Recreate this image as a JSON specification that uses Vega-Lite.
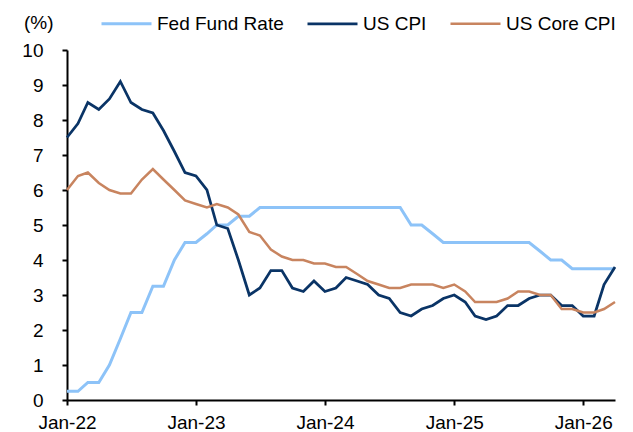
{
  "$schema": "https://vega.github.io/schema/vega-lite/v6.json",
  "width": 548,
  "height": 350,
  "autosize": {"type": "none"},
  "padding": {"left": 67, "top": 50, "right": 18, "bottom": 32},
  "config": {
    "view": {"stroke": null},
    "font": "Liberation Sans",
    "axis": {
      "domainColor": "#000000",
      "domainWidth": 2,
      "tickColor": "#000000",
      "tickWidth": 2,
      "tickSize": 5,
      "labelColor": "#000000",
      "labelFontSize": 19,
      "labelFont": "Liberation Sans",
      "labelFlush": false,
      "labelOverlap": false,
      "grid": false
    }
  },
  "data": {
    "values": [
      {"d": "2022-01-01", "s": "Fed Fund Rate", "v": 0.25},
      {"d": "2022-02-01", "s": "Fed Fund Rate", "v": 0.25},
      {"d": "2022-03-01", "s": "Fed Fund Rate", "v": 0.5},
      {"d": "2022-04-01", "s": "Fed Fund Rate", "v": 0.5},
      {"d": "2022-05-01", "s": "Fed Fund Rate", "v": 1.0},
      {"d": "2022-06-01", "s": "Fed Fund Rate", "v": 1.75},
      {"d": "2022-07-01", "s": "Fed Fund Rate", "v": 2.5},
      {"d": "2022-08-01", "s": "Fed Fund Rate", "v": 2.5},
      {"d": "2022-09-01", "s": "Fed Fund Rate", "v": 3.25},
      {"d": "2022-10-01", "s": "Fed Fund Rate", "v": 3.25},
      {"d": "2022-11-01", "s": "Fed Fund Rate", "v": 4.0},
      {"d": "2022-12-01", "s": "Fed Fund Rate", "v": 4.5},
      {"d": "2023-01-01", "s": "Fed Fund Rate", "v": 4.5},
      {"d": "2023-02-01", "s": "Fed Fund Rate", "v": 4.75},
      {"d": "2023-03-01", "s": "Fed Fund Rate", "v": 5.0},
      {"d": "2023-04-01", "s": "Fed Fund Rate", "v": 5.0},
      {"d": "2023-05-01", "s": "Fed Fund Rate", "v": 5.25},
      {"d": "2023-06-01", "s": "Fed Fund Rate", "v": 5.25},
      {"d": "2023-07-01", "s": "Fed Fund Rate", "v": 5.5},
      {"d": "2023-08-01", "s": "Fed Fund Rate", "v": 5.5},
      {"d": "2023-09-01", "s": "Fed Fund Rate", "v": 5.5},
      {"d": "2023-10-01", "s": "Fed Fund Rate", "v": 5.5},
      {"d": "2023-11-01", "s": "Fed Fund Rate", "v": 5.5},
      {"d": "2023-12-01", "s": "Fed Fund Rate", "v": 5.5},
      {"d": "2024-01-01", "s": "Fed Fund Rate", "v": 5.5},
      {"d": "2024-02-01", "s": "Fed Fund Rate", "v": 5.5},
      {"d": "2024-03-01", "s": "Fed Fund Rate", "v": 5.5},
      {"d": "2024-04-01", "s": "Fed Fund Rate", "v": 5.5},
      {"d": "2024-05-01", "s": "Fed Fund Rate", "v": 5.5},
      {"d": "2024-06-01", "s": "Fed Fund Rate", "v": 5.5},
      {"d": "2024-07-01", "s": "Fed Fund Rate", "v": 5.5},
      {"d": "2024-08-01", "s": "Fed Fund Rate", "v": 5.5},
      {"d": "2024-09-01", "s": "Fed Fund Rate", "v": 5.0},
      {"d": "2024-10-01", "s": "Fed Fund Rate", "v": 5.0},
      {"d": "2024-11-01", "s": "Fed Fund Rate", "v": 4.75},
      {"d": "2024-12-01", "s": "Fed Fund Rate", "v": 4.5},
      {"d": "2025-01-01", "s": "Fed Fund Rate", "v": 4.5},
      {"d": "2025-02-01", "s": "Fed Fund Rate", "v": 4.5},
      {"d": "2025-03-01", "s": "Fed Fund Rate", "v": 4.5},
      {"d": "2025-04-01", "s": "Fed Fund Rate", "v": 4.5},
      {"d": "2025-05-01", "s": "Fed Fund Rate", "v": 4.5},
      {"d": "2025-06-01", "s": "Fed Fund Rate", "v": 4.5},
      {"d": "2025-07-01", "s": "Fed Fund Rate", "v": 4.5},
      {"d": "2025-08-01", "s": "Fed Fund Rate", "v": 4.5},
      {"d": "2025-09-01", "s": "Fed Fund Rate", "v": 4.25},
      {"d": "2025-10-01", "s": "Fed Fund Rate", "v": 4.0},
      {"d": "2025-11-01", "s": "Fed Fund Rate", "v": 4.0},
      {"d": "2025-12-01", "s": "Fed Fund Rate", "v": 3.75},
      {"d": "2026-01-01", "s": "Fed Fund Rate", "v": 3.75},
      {"d": "2026-02-01", "s": "Fed Fund Rate", "v": 3.75},
      {"d": "2026-03-01", "s": "Fed Fund Rate", "v": 3.75},
      {"d": "2026-04-01", "s": "Fed Fund Rate", "v": 3.75},
      {"d": "2022-01-01", "s": "US CPI", "v": 7.5},
      {"d": "2022-02-01", "s": "US CPI", "v": 7.9},
      {"d": "2022-03-01", "s": "US CPI", "v": 8.5},
      {"d": "2022-04-01", "s": "US CPI", "v": 8.3},
      {"d": "2022-05-01", "s": "US CPI", "v": 8.6},
      {"d": "2022-06-01", "s": "US CPI", "v": 9.1},
      {"d": "2022-07-01", "s": "US CPI", "v": 8.5},
      {"d": "2022-08-01", "s": "US CPI", "v": 8.3},
      {"d": "2022-09-01", "s": "US CPI", "v": 8.2},
      {"d": "2022-10-01", "s": "US CPI", "v": 7.7},
      {"d": "2022-11-01", "s": "US CPI", "v": 7.1},
      {"d": "2022-12-01", "s": "US CPI", "v": 6.5},
      {"d": "2023-01-01", "s": "US CPI", "v": 6.4},
      {"d": "2023-02-01", "s": "US CPI", "v": 6.0},
      {"d": "2023-03-01", "s": "US CPI", "v": 5.0},
      {"d": "2023-04-01", "s": "US CPI", "v": 4.9},
      {"d": "2023-05-01", "s": "US CPI", "v": 4.0},
      {"d": "2023-06-01", "s": "US CPI", "v": 3.0},
      {"d": "2023-07-01", "s": "US CPI", "v": 3.2},
      {"d": "2023-08-01", "s": "US CPI", "v": 3.7},
      {"d": "2023-09-01", "s": "US CPI", "v": 3.7},
      {"d": "2023-10-01", "s": "US CPI", "v": 3.2},
      {"d": "2023-11-01", "s": "US CPI", "v": 3.1},
      {"d": "2023-12-01", "s": "US CPI", "v": 3.4},
      {"d": "2024-01-01", "s": "US CPI", "v": 3.1},
      {"d": "2024-02-01", "s": "US CPI", "v": 3.2},
      {"d": "2024-03-01", "s": "US CPI", "v": 3.5},
      {"d": "2024-04-01", "s": "US CPI", "v": 3.4},
      {"d": "2024-05-01", "s": "US CPI", "v": 3.3},
      {"d": "2024-06-01", "s": "US CPI", "v": 3.0},
      {"d": "2024-07-01", "s": "US CPI", "v": 2.9},
      {"d": "2024-08-01", "s": "US CPI", "v": 2.5},
      {"d": "2024-09-01", "s": "US CPI", "v": 2.4},
      {"d": "2024-10-01", "s": "US CPI", "v": 2.6},
      {"d": "2024-11-01", "s": "US CPI", "v": 2.7},
      {"d": "2024-12-01", "s": "US CPI", "v": 2.9},
      {"d": "2025-01-01", "s": "US CPI", "v": 3.0},
      {"d": "2025-02-01", "s": "US CPI", "v": 2.8},
      {"d": "2025-03-01", "s": "US CPI", "v": 2.4},
      {"d": "2025-04-01", "s": "US CPI", "v": 2.3},
      {"d": "2025-05-01", "s": "US CPI", "v": 2.4},
      {"d": "2025-06-01", "s": "US CPI", "v": 2.7},
      {"d": "2025-07-01", "s": "US CPI", "v": 2.7},
      {"d": "2025-08-01", "s": "US CPI", "v": 2.9},
      {"d": "2025-09-01", "s": "US CPI", "v": 3.0},
      {"d": "2025-10-01", "s": "US CPI", "v": 3.0},
      {"d": "2025-11-01", "s": "US CPI", "v": 2.7},
      {"d": "2025-12-01", "s": "US CPI", "v": 2.7},
      {"d": "2026-01-01", "s": "US CPI", "v": 2.4},
      {"d": "2026-02-01", "s": "US CPI", "v": 2.4},
      {"d": "2026-03-01", "s": "US CPI", "v": 3.3},
      {"d": "2026-04-01", "s": "US CPI", "v": 3.8},
      {"d": "2022-01-01", "s": "US Core CPI", "v": 6.0},
      {"d": "2022-02-01", "s": "US Core CPI", "v": 6.4},
      {"d": "2022-03-01", "s": "US Core CPI", "v": 6.5},
      {"d": "2022-04-01", "s": "US Core CPI", "v": 6.2},
      {"d": "2022-05-01", "s": "US Core CPI", "v": 6.0},
      {"d": "2022-06-01", "s": "US Core CPI", "v": 5.9},
      {"d": "2022-07-01", "s": "US Core CPI", "v": 5.9},
      {"d": "2022-08-01", "s": "US Core CPI", "v": 6.3},
      {"d": "2022-09-01", "s": "US Core CPI", "v": 6.6},
      {"d": "2022-10-01", "s": "US Core CPI", "v": 6.3},
      {"d": "2022-11-01", "s": "US Core CPI", "v": 6.0},
      {"d": "2022-12-01", "s": "US Core CPI", "v": 5.7},
      {"d": "2023-01-01", "s": "US Core CPI", "v": 5.6},
      {"d": "2023-02-01", "s": "US Core CPI", "v": 5.5},
      {"d": "2023-03-01", "s": "US Core CPI", "v": 5.6},
      {"d": "2023-04-01", "s": "US Core CPI", "v": 5.5},
      {"d": "2023-05-01", "s": "US Core CPI", "v": 5.3},
      {"d": "2023-06-01", "s": "US Core CPI", "v": 4.8},
      {"d": "2023-07-01", "s": "US Core CPI", "v": 4.7},
      {"d": "2023-08-01", "s": "US Core CPI", "v": 4.3},
      {"d": "2023-09-01", "s": "US Core CPI", "v": 4.1},
      {"d": "2023-10-01", "s": "US Core CPI", "v": 4.0},
      {"d": "2023-11-01", "s": "US Core CPI", "v": 4.0},
      {"d": "2023-12-01", "s": "US Core CPI", "v": 3.9},
      {"d": "2024-01-01", "s": "US Core CPI", "v": 3.9},
      {"d": "2024-02-01", "s": "US Core CPI", "v": 3.8},
      {"d": "2024-03-01", "s": "US Core CPI", "v": 3.8},
      {"d": "2024-04-01", "s": "US Core CPI", "v": 3.6},
      {"d": "2024-05-01", "s": "US Core CPI", "v": 3.4},
      {"d": "2024-06-01", "s": "US Core CPI", "v": 3.3},
      {"d": "2024-07-01", "s": "US Core CPI", "v": 3.2},
      {"d": "2024-08-01", "s": "US Core CPI", "v": 3.2},
      {"d": "2024-09-01", "s": "US Core CPI", "v": 3.3},
      {"d": "2024-10-01", "s": "US Core CPI", "v": 3.3},
      {"d": "2024-11-01", "s": "US Core CPI", "v": 3.3},
      {"d": "2024-12-01", "s": "US Core CPI", "v": 3.2},
      {"d": "2025-01-01", "s": "US Core CPI", "v": 3.3},
      {"d": "2025-02-01", "s": "US Core CPI", "v": 3.1},
      {"d": "2025-03-01", "s": "US Core CPI", "v": 2.8},
      {"d": "2025-04-01", "s": "US Core CPI", "v": 2.8},
      {"d": "2025-05-01", "s": "US Core CPI", "v": 2.8},
      {"d": "2025-06-01", "s": "US Core CPI", "v": 2.9},
      {"d": "2025-07-01", "s": "US Core CPI", "v": 3.1},
      {"d": "2025-08-01", "s": "US Core CPI", "v": 3.1},
      {"d": "2025-09-01", "s": "US Core CPI", "v": 3.0},
      {"d": "2025-10-01", "s": "US Core CPI", "v": 3.0},
      {"d": "2025-11-01", "s": "US Core CPI", "v": 2.6},
      {"d": "2025-12-01", "s": "US Core CPI", "v": 2.6},
      {"d": "2026-01-01", "s": "US Core CPI", "v": 2.5},
      {"d": "2026-02-01", "s": "US Core CPI", "v": 2.5},
      {"d": "2026-03-01", "s": "US Core CPI", "v": 2.6},
      {"d": "2026-04-01", "s": "US Core CPI", "v": 2.8}
    ]
  },
  "mark": {"type": "line", "strokeJoin": "miter"},
  "encoding": {
    "x": {
      "field": "d",
      "type": "temporal",
      "scale": {
        "type": "utc",
        "domain": [
          {"year": 2022, "month": 1, "date": 1, "utc": true},
          {"year": 2026, "month": 4, "date": 1, "utc": true}
        ]
      },
      "axis": {
        "title": null,
        "format": "%b-%y",
        "labelPadding": 8,
        "labelAlign": "center",
        "values": [
          {"year": 2022, "month": 1, "date": 1, "utc": true},
          {"year": 2023, "month": 1, "date": 1, "utc": true},
          {"year": 2024, "month": 1, "date": 1, "utc": true},
          {"year": 2025, "month": 1, "date": 1, "utc": true},
          {"year": 2026, "month": 1, "date": 1, "utc": true}
        ]
      }
    },
    "y": {
      "field": "v",
      "type": "quantitative",
      "scale": {"domain": [0, 10], "nice": false},
      "axis": {
        "values": [0, 1, 2, 3, 4, 5, 6, 7, 8, 9, 10],
        "labelPadding": 19,
        "title": "(%)",
        "titleAngle": 0,
        "titleAlign": "right",
        "titleBaseline": "middle",
        "titleX": -14,
        "titleY": -28,
        "titleFontSize": 19,
        "titleFontWeight": "normal",
        "titleColor": "#000000",
        "titleFont": "Liberation Sans"
      }
    },
    "color": {
      "field": "s",
      "type": "nominal",
      "scale": {
        "domain": ["Fed Fund Rate", "US CPI", "US Core CPI"],
        "range": ["#8DC3F8", "#0A3466", "#C8845F"]
      },
      "legend": {
        "title": null,
        "orient": "none",
        "direction": "horizontal",
        "legendX": 33,
        "legendY": -53,
        "symbolType": "stroke",
        "symbolSize": 2500,
        "symbolStrokeWidth": 3,
        "labelFontSize": 19,
        "labelFont": "Liberation Sans",
        "labelColor": "#000000",
        "labelOffset": 4,
        "columnPadding": 18,
        "labelLimit": 300
      }
    },
    "strokeWidth": {
      "field": "s",
      "type": "nominal",
      "scale": {
        "domain": ["Fed Fund Rate", "US CPI", "US Core CPI"],
        "range": [3, 2.5, 2.5]
      },
      "legend": null
    }
  }
}
